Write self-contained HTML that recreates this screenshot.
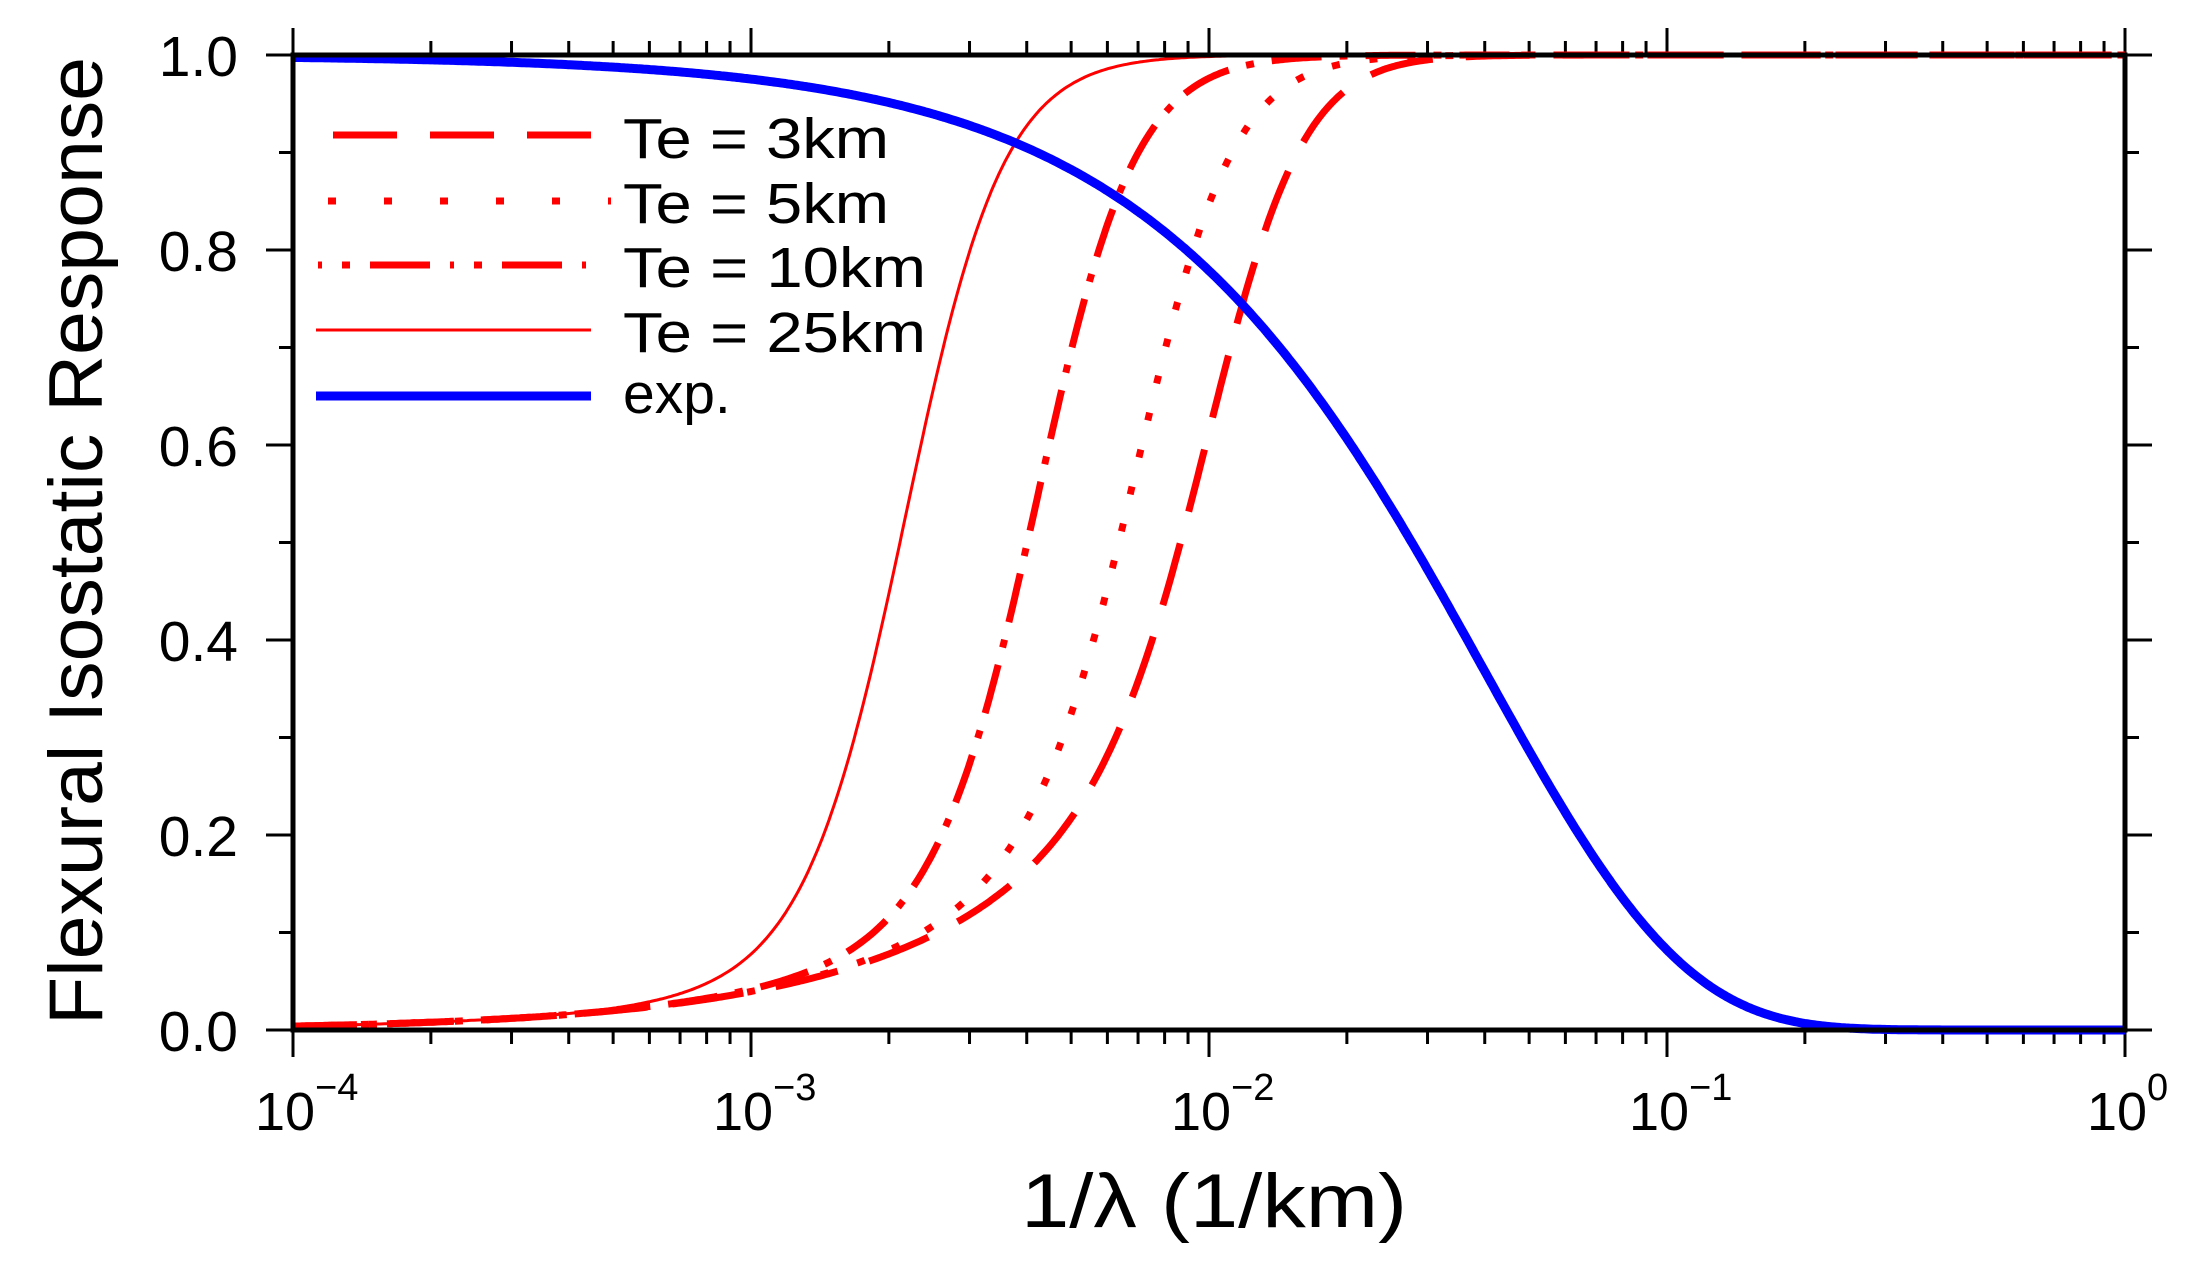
<!DOCTYPE html>
<html><head><meta charset="utf-8"><style>
html,body{margin:0;padding:0;background:#fff;}
svg{display:block;}
text{font-family:"Liberation Sans",Arial,sans-serif;fill:#000;}
</style></head><body>
<svg id="s" width="2206" height="1286" viewBox="0 0 2206 1286" xmlns="http://www.w3.org/2000/svg">
<g id="ticks" stroke="#000" stroke-width="3"></g>
<g id="curves" fill="none" stroke-linejoin="round"></g>
<rect x="293" y="55" width="1832" height="975" fill="none" stroke="#000" stroke-width="5"/>
<g id="labels"></g>
<g fill="none">
<line x1="333" y1="135" x2="591" y2="135" stroke="#f00" stroke-width="7" stroke-dasharray="64,33"/>
<line x1="328" y1="201" x2="611" y2="201" stroke="#f00" stroke-width="7" stroke-dasharray="8,48"/>
<line x1="318" y1="265" x2="591" y2="265" stroke="#f00" stroke-width="7" stroke-dasharray="4,20,8,20,60,20"/>
<line x1="316" y1="330" x2="591" y2="330" stroke="#f00" stroke-width="3"/>
<line x1="316" y1="396" x2="591" y2="396" stroke="#00f" stroke-width="9"/>
</g>
<text x="623" y="158" font-size="57" textLength="266" lengthAdjust="spacingAndGlyphs">Te = 3km</text>
<text x="623" y="223" font-size="57" textLength="266" lengthAdjust="spacingAndGlyphs">Te = 5km</text>
<text x="623" y="287" font-size="57" textLength="303" lengthAdjust="spacingAndGlyphs">Te = 10km</text>
<text x="623" y="352" font-size="57" textLength="303" lengthAdjust="spacingAndGlyphs">Te = 25km</text>
<text x="623" y="413" font-size="57">exp.</text>
<text x="1214" y="1227" font-size="76" text-anchor="middle" textLength="386" lengthAdjust="spacingAndGlyphs">1/λ (1/km)</text>
<text transform="translate(102,541) rotate(-90)" font-size="76" text-anchor="middle" textLength="968" lengthAdjust="spacingAndGlyphs">Flexural Isostatic Response</text>
</svg>
<script>
var NS="http://www.w3.org/2000/svg";
function el(t,a,p){var e=document.createElementNS(NS,t);for(var k in a)e.setAttribute(k,a[k]);p.appendChild(e);return e;}
var L=293,R=2125,T=55,B=1030,dec=(R-L)/4;
var tk=document.getElementById('ticks'),lb=document.getElementById('labels');
for(var d=0;d<4;d++){for(var m=1;m<10;m++){var x=L+dec*(d+Math.log10(m));var len=m==1?27:14;
el('line',{x1:x,y1:B,x2:x,y2:B+len},tk);el('line',{x1:x,y1:T,x2:x,y2:T-len},tk);}}
el('line',{x1:R,y1:B,x2:R,y2:B+27},tk);el('line',{x1:R,y1:T,x2:R,y2:T-27},tk);
var exps=["−4","−3","−2","−1","0"];
for(var d=0;d<=4;d++){var x=L+dec*d;var t=el('text',{x:x-8,y:1130,'font-size':54,'text-anchor':'middle'},lb);
t.textContent="10";var s=el('text',{x:x+22,y:1100,'font-size':38,'text-anchor':'start'},lb);s.textContent=exps[d];}
for(var i=0;i<=10;i++){var y=B-(B-T)*i/10;var len=i%2==0?27:14;
el('line',{x1:L,y1:y,x2:L-len,y2:y},tk);el('line',{x1:R,y1:y,x2:R+len,y2:y},tk);
if(i%2==0){var t=el('text',{x:238,y:y+21,'font-size':57,'text-anchor':'end'},lb);t.textContent=(i/10).toFixed(1);}}
function path(f){var d="";for(var i=0;i<=800;i++){var lk=-4+4*i/800,k=Math.pow(10,lk);var v=f(k);
var x=L+(lk+4)*dec,y=B-(B-T)*v;d+=(i?" L":"M")+x.toFixed(1)+","+y.toFixed(1);}return d;}
function red(k0){return function(k){var r=Math.pow(k/k0,4),S=r/(1+r);return 1-(1-S)*Math.exp(-40*k);};}
var series=[
{f:red(0.0108),c:"#f00",w:7,da:"64,33"},
{f:red(0.00737),c:"#f00",w:7,da:"8,30"},
{f:red(0.00438),c:"#f00",w:7,da:"50,18,8,18"},
{f:red(0.00221),c:"#f00",w:3,da:""},
{f:function(k){return Math.exp(-25*k);},c:"#00f",w:9,da:""}];
var cg=document.getElementById('curves');
series.forEach(function(s){var a={d:path(s.f),stroke:s.c,'stroke-width':s.w};if(s.da)a['stroke-dasharray']=s.da;el('path',a,cg);});
</script>
</body></html>
